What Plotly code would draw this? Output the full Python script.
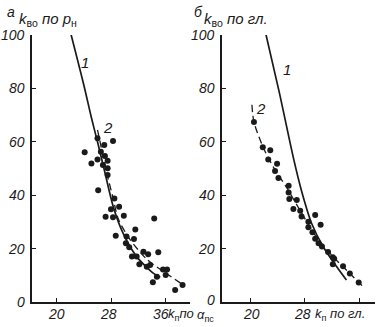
import plotly.graph_objects as go

W, H = 381, 327

# ---- Panel a (left): k_vo by p_n vs k_p by alpha_ps ----
a_pts_x = [24.1, 26.0, 27.0, 28.3, 26.5, 27.1, 26.0, 25.1, 27.5, 26.8, 27.5, 27.5,
           26.1, 28.5, 29.2, 28.0, 27.2, 28.3, 29.9, 34.4, 31.6, 28.7, 30.3, 31.4,
           30.2, 30.7, 32.8, 33.5, 35.0, 31.1, 31.8, 32.2, 33.3, 33.8, 35.7, 36.3,
           36.1, 34.8, 34.2, 38.6, 37.5]
a_pts_y = [56.1, 61.3, 58.8, 60.3, 56.3, 54.7, 53.4, 51.9, 52.9, 51.3, 50.1, 47.6,
           41.9, 38.8, 35.7, 34.7, 31.9, 31.7, 32.3, 31.3, 27.2, 24.8, 24.5, 23.6,
           22.0, 20.5, 18.8, 17.9, 18.6, 17.0, 17.0, 14.1, 13.2, 13.9, 12.2, 12.2,
           10.1, 9.5, 7.4, 6.4, 4.5]
a_c1_x = [21.9, 24.0, 25.1, 26.1, 27.1, 28.3, 29.8, 31.8, 34.3, 35.3]
a_c1_y = [102, 81, 69, 59, 48.5, 36, 25.7, 17, 10.7, 9.3]
a_c2_x = [26.0, 26.8, 27.5, 28.3, 29.1, 30.8, 33.3, 36.3, 38.7]
a_c2_y = [64.5, 55, 47, 39, 31, 23.5, 16, 10.5, 6.4]

# ---- Panel b (right): k_vo by gl. vs k_p by gl. ----
b_pts_x = [20.5, 21.8, 22.9, 22.6, 23.9, 23.6, 24.1, 25.6, 25.6, 25.7, 26.8, 26.3,
           27.3, 27.5, 29.5, 28.5, 30.3, 28.5, 29.1, 29.5, 30.0, 30.5, 31.4, 32.1,
           32.3, 32.1, 33.6, 34.6, 35.9]
b_pts_y = [67.4, 58.0, 56.8, 53.4, 51.8, 49.1, 46.4, 43.5, 41.0, 38.6, 38.2, 34.8,
           34.2, 32.0, 32.6, 30.1, 28.9, 28.0, 26.1, 23.7, 22.0, 20.8, 18.7, 16.8,
           16.2, 14.1, 13.4, 10.7, 7.3]
b_c1_x = [22.1, 24.2, 26.3, 27.5, 29.0, 30.7, 32.7, 34.1]
b_c1_y = [102, 78.8, 54, 41.6, 29.3, 20.6, 13.1, 8.2]
b_c2_x = [20.2, 20.5, 21.9, 23.4, 25.3, 27.3, 29.7, 32.2, 34.6, 36.8]
b_c2_y = [73.9, 67.4, 57.7, 50.3, 42.9, 34.2, 24.3, 16.8, 10.7, 5.1]

x_ticks = [20, 28, 36]
y_ticks = [0, 20, 40, 60, 80, 100]

INK = "#1a1a1a"
FONT = "Liberation Sans"

fig = go.Figure()

def add_panel(px, py, c1x, c1y, c2x, c2y, xa, ya):
    fig.add_trace(go.Scatter(x=c1x, y=c1y, mode="lines", line=dict(color=INK, width=1.7, shape="spline", smoothing=0.8),
                             xaxis=xa, yaxis=ya, hoverinfo="skip"))
    fig.add_trace(go.Scatter(x=c2x, y=c2y, mode="lines", line=dict(color=INK, width=1.3, dash="7px,4px", shape="spline", smoothing=0.8),
                             xaxis=xa, yaxis=ya, hoverinfo="skip"))
    fig.add_trace(go.Scatter(x=px, y=py, mode="markers", marker=dict(color=INK, size=6),
                             xaxis=xa, yaxis=ya, hoverinfo="skip"))

add_panel(a_pts_x, a_pts_y, a_c1_x, a_c1_y, a_c2_x, a_c2_y, "x", "y")
add_panel(b_pts_x, b_pts_y, b_c1_x, b_c1_y, b_c2_x, b_c2_y, "x2", "y2")

ydom = [(H - 302) / H, (H - 35) / H]
axcommon = dict(showline=True, linecolor=INK, linewidth=1.5, ticks="inside", ticklen=4,
                tickcolor=INK, tickwidth=1.2, showgrid=False, zeroline=False,
                showticklabels=False, fixedrange=True)

fig.update_layout(
    width=W, height=H, margin=dict(l=0, r=0, t=0, b=0),
    paper_bgcolor="white", plot_bgcolor="white", showlegend=False,
    xaxis=dict(domain=[32 / W, 190 / W], range=[16.3, 39.7], tickvals=x_ticks, anchor="y", **axcommon),
    yaxis=dict(domain=ydom, range=[0, 100], tickvals=y_ticks, anchor="x", **axcommon),
    xaxis2=dict(domain=[222 / W, 375 / W], range=[15.8, 38.3], tickvals=x_ticks, anchor="y2", **axcommon),
    yaxis2=dict(domain=ydom, range=[0, 100], tickvals=y_ticks, anchor="x2", **axcommon),
)

def ann(text, x, y, xanchor="center", yanchor="middle", size=14, xref="paper", yref="paper"):
    fig.add_annotation(text=text, x=x, y=y, xref=xref, yref=yref, xanchor=xanchor, yanchor=yanchor,
                       showarrow=False, font=dict(family=FONT, size=size, color=INK))

# y tick labels
for v in y_ticks:
    ann("<i>%d</i>" % v, 27 / W, v, xanchor="right", yref="y")
    ann("<i>%d</i>" % v, 217 / W, v + (0.6 if v == 0 else 0), xanchor="right", yref="y2")

# x tick labels
ann("<i>20</i>", 20, 1 - 314 / H, xref="x")
ann("<i>28</i>", 27.6, 1 - 314 / H, xref="x")
ann("<i>36</i>", 35.4, 1 - 314 / H, xref="x")
ann("<i>20</i>", 20.2, 1 - 314 / H, xref="x2")
ann("<i>28</i>", 27.6, 1 - 314 / H, xref="x2")

# axis titles
ann("<i>k</i><sub>п</sub><i>по</i>", 166 / W, 1 - 314 / H, xanchor="left", size=13)
ann("<i>α</i><sub>пс</sub>", 195 / W, 1 - 315 / H, xanchor="left", size=13)
ann("<i>k</i><sub>п</sub> <i>по гл.</i>", 313 / W, 1 - 314 / H, xanchor="left", size=13)
ann("<i>а</i>", 5 / W, 1 - 12 / H, xanchor="left")
ann("<i>k</i><sub>во</sub> <i>по p</i><sub>н</sub>", 17 / W, 1 - 19 / H, xanchor="left", size=15)
ann("<i>б</i>", 192 / W, 1 - 12 / H, xanchor="left")
ann("<i>k</i><sub>во</sub> <i>по гл.</i>", 202 / W, 1 - 19 / H, xanchor="left", size=15)

# curve labels
ann("<i>1</i>", 85 / W, 1 - 63 / H, size=15)
ann("<i>2</i>", 108 / W, 1 - 127 / H, size=15)
ann("<i>1</i>", 287 / W, 1 - 70 / H, size=15)
ann("<i>2</i>", 261 / W, 1 - 108 / H, size=15)

fig.write_html("out.html")
